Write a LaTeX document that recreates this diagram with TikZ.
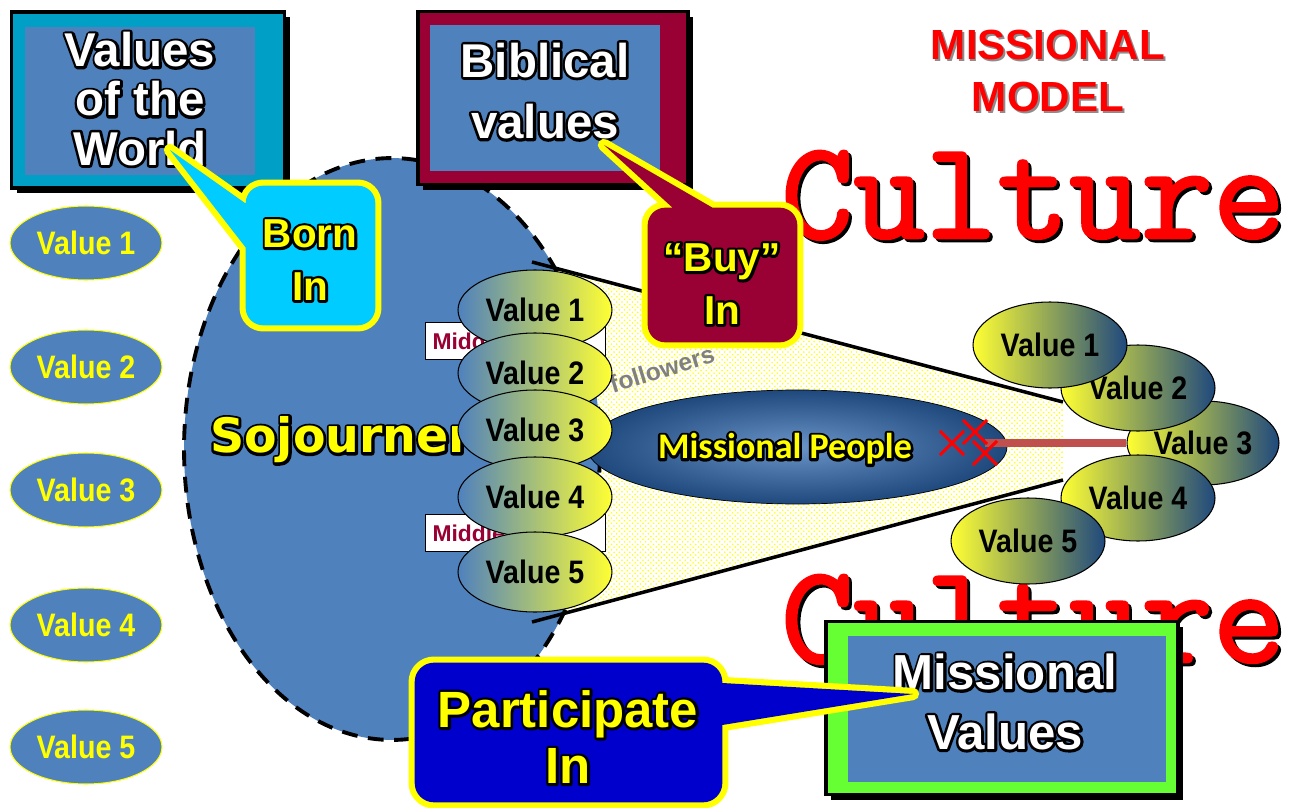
\documentclass[tikz,border=0pt]{standalone}
\usepackage{fontspec}
\setmainfont{Liberation Sans}
\newfontfamily\narrowfont{Liberation Sans}[FakeStretch=0.88]
\newfontfamily\calibrifont{Carlito}
\newfontfamily\comicfont{DejaVu Sans}
\newfontfamily\culturefont{Latin Modern Mono}[FakeBold=2]
\usetikzlibrary{shapes.geometric, shapes.misc, patterns, shadows, positioning, calc}

\definecolor{slideblue}{RGB}{79,129,189}
\definecolor{navyblue}{RGB}{31,73,125}
\definecolor{worldteal}{RGB}{0,160,198}
\definecolor{biblered}{RGB}{153,0,51}
\definecolor{borncyan}{RGB}{0,204,255}
\definecolor{partblue}{RGB}{0,0,204}
\definecolor{missgreen}{RGB}{102,255,51}
\definecolor{barred}{RGB}{192,80,77}
\definecolor{valyellow}{RGB}{255,255,51}
\definecolor{callyellow}{RGB}{255,255,0}
\definecolor{culturered}{RGB}{255,0,0}

% black rim round a letter: stroked copy first, filled copy on top
\newcommand{\inked}[1]{\leavevmode\rlap{\special{pdf:literal direct 1 Tr 3 w 1 j 0 G}#1\special{pdf:literal direct 0 Tr}}#1}

\tikzstyle{outerbox} = [rectangle, draw=black, line width=2pt, inner sep=0pt, drop shadow={shadow xshift=3pt, shadow yshift=-3pt, opacity=1, fill=black}]
\tikzstyle{innerbox} = [rectangle, fill=slideblue, inner sep=0pt]
\tikzstyle{boxtext} = [text=white, font=\bfseries\fontsize{27}{28}\selectfont, align=center]
\tikzstyle{calloutbox} = [rectangle, inner sep=0pt]
\tikzstyle{calloutedge} = [draw=callyellow, line width=7pt, line join=round]
\tikzstyle{callouttext} = [text=callyellow, font=\bfseries\fontsize{23}{30}\selectfont, align=center]
\tikzstyle{plainvalue} = [ellipse, draw=callyellow, semithick, fill=slideblue, minimum width=3.04cm, minimum height=1.48cm, inner sep=0pt, text=callyellow, font=\narrowfont\bfseries\fontsize{18.5}{20}\selectfont]
\tikzstyle{leftvalue} = [ellipse, draw=black, semithick, left color=slideblue, right color=valyellow, minimum width=3.08cm, minimum height=1.6cm, inner sep=0pt, font=\narrowfont\bfseries\fontsize{18.5}{20}\selectfont]
\tikzstyle{rightvalue} = [ellipse, draw=black, semithick, left color=valyellow, right color=navyblue, minimum width=3.08cm, minimum height=1.72cm, inner sep=0pt, font=\narrowfont\bfseries\fontsize{18.5}{20}\selectfont]
\tikzstyle{middlebox} = [rectangle, draw=black, fill=white, minimum width=3.6cm, minimum height=0.74cm, text width=3.3cm, align=left, text=biblered, font=\bfseries\fontsize{13}{14}\selectfont]
\tikzstyle{culturetext} = [anchor=base west, inner sep=0pt, font=\culturefont\bfseries\fontsize{79.5}{80}\selectfont]
\tikzstyle{titletext} = [align=center, font=\bfseries\fontsize{24}{29.5}\selectfont]
\tikzstyle{crossmark} = [cross out, draw=red, line width=1.8pt, minimum size=0.42cm, inner sep=0pt]
\tikzstyle{barline} = [line width=5pt, barred]

\begin{document}
\begin{tikzpicture}[x=0.02cm, y=-0.02cm]
    % Canvas
    \fill[white] (0,0) rectangle (1296,808);
    \useasboundingbox (0,0) rectangle (1296,808);

    % Culture words
    \node (culturetopshadow) [culturetext, text=black] at (784,241) {Culture};
    \node (culturetop) [culturetext, text=culturered] at (781,238) {Culture};
    \node (culturelowshadow) [culturetext, text=black] at (784,665) {Culture};
    \node (culturelow) [culturetext, text=culturered] at (781,662) {Culture};

    % Values of the world
    \foreach \i/\y in {1/243, 2/367, 3/490, 4/625, 5/747}
        \node (worldval\i) [plainvalue] at (86,\y) {Value \i};

    % Cone
    \coordinate (conetl) at (532,262);
    \coordinate (conetr) at (1063,402);
    \coordinate (conebr) at (1063,480);
    \coordinate (conebl) at (532,622);
    \fill[pattern=crosshatch dots, pattern color=callyellow] (conetl) -- (conetr) -- (conebr) -- (conebl) -- cycle;

    % Sojourners
    \node (sojourn) [ellipse, fill=slideblue, draw=black, line width=2.2pt, dash pattern=on 9pt off 6pt, minimum width=8.32cm, minimum height=11.64cm] at (392,449) {};
    \draw[line width=2pt] (conetl) -- (conetr);
    \draw[line width=2pt] (conebl) -- (conebr);
    \node (sojourntext) [anchor=west, text=callyellow, font=\comicfont\bfseries\fontsize{27}{30}\selectfont] at (204,440) {\inked{Sojourners}};

    \node (middleup) [middlebox] at (515,341) {Middle};
    \node (middlelow) [middlebox] at (515,533) {Middle};
    \node (followers) [rotate=17, text=gray, font=\bfseries\fontsize{14}{15}\selectfont] at (662,369) {followers};

    % Missional people
    \node (people) [ellipse, draw=black, thin, inner color=slideblue!85!white, outer color=navyblue, minimum width=8.4cm, minimum height=2.28cm] at (797,447) {};
    \node (peopletext) [text=callyellow, font=\calibrifont\bfseries\fontsize{20.5}{22}\selectfont] at (785,449) {\inked{Missional People}};

    \foreach \i/\y in {1/310, 2/373, 3/430, 4/497, 5/572}
        \node (leftval\i) [leftvalue] at (535,\y) {Value \i};

    % Values in the culture
    \node (rightval3) [rightvalue, minimum width=3.04cm, minimum height=1.68cm] at (1203,443) {Value 3};
    \node (rightval2) [rightvalue] at (1138,388) {Value 2};
    \node (rightval1) [rightvalue] at (1050,345) {Value 1};
    \node (rightval4) [rightvalue] at (1138,498) {Value 4};
    \node (rightval5) [rightvalue] at (1028,541) {Value 5};

    \coordinate (cutpoint) at (985,443);
    \draw[barline] (cutpoint) -- (rightval3.west);
    \node (cross1) [crossmark] at (952,443) {};
    \node (cross2) [crossmark] at (975,432) {};
    \node (cross3) [crossmark] at (985,453) {};

    % Boxes
    \node (worldbox) [outerbox, fill=worldteal, minimum width=5.46cm, minimum height=3.52cm] at (148,100) {};
    \node (worldinner) [innerbox, minimum width=4.6cm, minimum height=2.96cm] at (140,101) {};
    \node (worldtext) [boxtext] at (140,99) {\inked{Values}\\\inked{of the}\\\inked{World}};

    \node (biblebox) [outerbox, fill=biblered, minimum width=5.4cm, minimum height=3.46cm] at (553,98) {};
    \node (bibleinner) [innerbox, minimum width=4.6cm, minimum height=2.94cm] at (545,98) {};
    \node (bibletext) [boxtext, font=\bfseries\fontsize{27}{35}\selectfont] at (545,91) {\inked{Biblical}\\\inked{values}};

    \node (missbox) [outerbox, fill=missgreen, minimum width=7.04cm, minimum height=3.46cm] at (1002,708) {};
    \node (missinner) [innerbox, minimum width=6.36cm, minimum height=2.92cm] at (1007,709) {};
    \node (misstext) [boxtext, font=\bfseries\fontsize{28}{34}\selectfont] at (1005,702) {\inked{Missional}\\\inked{Values}};

    % Callouts
    \node (bornbox) [calloutbox, minimum width=2.58cm, minimum height=2.78cm] at (310.5,255.5) {};
    \coordinate (borntip) at (170,150);
    \path[calloutedge] [rounded corners=10pt] (bornbox.north west) rectangle (bornbox.south east)
        [sharp corners] ($(bornbox.west)+(0,-52)$) -- (borntip) -- ($(bornbox.west)+(0,-8)$) -- cycle;
    \fill[borncyan] [rounded corners=10pt] (bornbox.north west) rectangle (bornbox.south east)
        [sharp corners] ($(bornbox.west)+(0,-52)$) -- (borntip) -- ($(bornbox.west)+(0,-8)$) -- cycle;
    \node (borntext) [callouttext] at (310,260) {\inked{Born}\\\inked{In}};

    \node (buybox) [calloutbox, minimum width=2.98cm, minimum height=2.68cm] at (722.5,275) {};
    \coordinate (buytip) at (604,145);
    \path[calloutedge] [rounded corners=10pt] (buybox.north west) rectangle (buybox.south east)
        [sharp corners] ($(buybox.north)+(-50,0)$) -- (buytip) -- ($(buybox.north)+(-10,0)$) -- cycle;
    \fill[biblered] [rounded corners=10pt] (buybox.north west) rectangle (buybox.south east)
        [sharp corners] ($(buybox.north)+(-50,0)$) -- (buytip) -- ($(buybox.north)+(-10,0)$) -- cycle;
    \node (buytext) [callouttext] at (722,284) {\inked{“Buy”}\\\inked{In}};

    \node (partbox) [calloutbox, minimum width=6.14cm, minimum height=2.78cm] at (568.5,732.5) {};
    \coordinate (parttip) at (913,694);
    \path[calloutedge] [rounded corners=11pt] (partbox.north west) rectangle (partbox.south east)
        [sharp corners] ($(partbox.east)+(0,-49.5)$) -- (parttip) -- ($(partbox.east)+(0,-7.5)$) -- cycle;
    \fill[partblue] [rounded corners=11pt] (partbox.north west) rectangle (partbox.south east)
        [sharp corners] ($(partbox.east)+(0,-49.5)$) -- (parttip) -- ($(partbox.east)+(0,-7.5)$) -- cycle;
    \node (parttext) [callouttext, font=\bfseries\fontsize{29}{32}\selectfont] at (568,737) {\inked{Participate}\\\inked{In}};

    % Title
    \node (titleshadow) [titletext, text=black!45] at (1050,73) {MISSIONAL\\MODEL};
    \node (title) [titletext, text=culturered] at (1048,71) {MISSIONAL\\MODEL};
\end{tikzpicture}
\end{document}
